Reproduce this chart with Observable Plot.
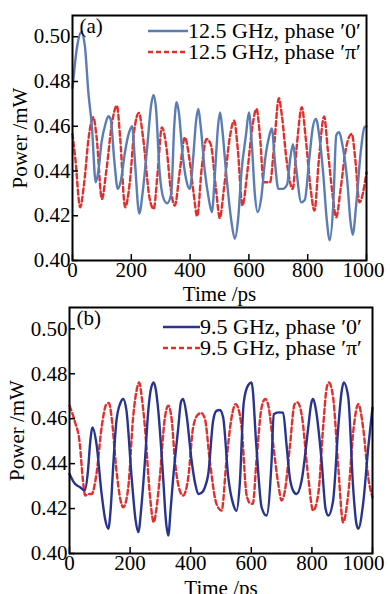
<!DOCTYPE html>
<html>
<head>
<meta charset="utf-8">
<script src="https://cdn.jsdelivr.net/npm/d3@7"></script>
<script src="https://cdn.jsdelivr.net/npm/@observablehq/plot@0.6"></script>
<style>
  html, body { margin: 0; padding: 0; background: #fff; }
  #wrap { position: relative; width: 390px; height: 594px; background: #fff; font-family: "Liberation Serif", serif; }
  .pane { position: absolute; left: 0; }
  .legend { position: absolute; font-size: 22px; line-height: 21px; color: #000; white-space: nowrap; }
  .row { display: flex; align-items: center; height: 21px; }
  .row svg { display: block; }
</style>
</head>
<body>
<div id="wrap">
  <div id="pa" class="pane" style="top:0"></div>
  <div id="pb" class="pane" style="top:300px"></div>
  <div id="la" class="legend" style="left:148px; top:20px"></div>
  <div id="lb" class="legend" style="left:163px; top:316px"></div>
</div>
<script>
// ---------- data ----------
const xTicks = [0, 200, 400, 600, 800, 1000];
const yTicks = [0.40, 0.42, 0.44, 0.46, 0.48, 0.50];
const seriesNamesA = ["12.5 GHz, phase \u20320\u2032", "12.5 GHz, phase \u2032\u03c0\u2032"];
const seriesNamesB = ["9.5 GHz, phase \u20320\u2032", "9.5 GHz, phase \u2032\u03c0\u2032"];
const panelLabels = ["(a)", "(b)"];

// (a) 12.5 GHz, phase 0
const tA0 = [0,15,30,42,54,66,79,88,99,112,122,130,142,154,165,178,192,203,212,227,240,255,268,276,284,296,309,322,336,346,354,362,374,387,399,410,420,428,436,450,463,474,485,495,502,510,522,540,552,563,575,590,600,610,620,630,642,655,668,678,688,700,715,730,740,750,760,778,790,805,818,828,840,852,865,875,887,897,906,919,935,945,953,965,980,993,1000];
const vA0 = [0.477,0.495,0.502,0.496,0.475,0.460,0.435,0.440,0.453,0.461,0.4645,0.463,0.445,0.432,0.436,0.448,0.457,0.460,0.445,0.421,0.432,0.452,0.470,0.474,0.468,0.440,0.428,0.4256,0.430,0.460,0.4707,0.466,0.448,0.436,0.432,0.445,0.462,0.4677,0.460,0.440,0.428,0.4216,0.440,0.460,0.4662,0.458,0.440,0.418,0.4097,0.418,0.440,0.456,0.4662,0.452,0.430,0.4216,0.428,0.445,0.455,0.459,0.445,0.432,0.432,0.434,0.445,0.452,0.442,0.426,0.427,0.445,0.460,0.4633,0.455,0.440,0.418,0.409,0.425,0.4558,0.4573,0.451,0.435,0.418,0.4115,0.425,0.448,0.4595,0.460];
// (a) 12.5 GHz, phase pi
const tApi = [0,10,26,40,55,71,82,100,115,135,151,162,179,195,210,226,240,262,276,290,304,320,334,348,365,382,398,412,424,440,456,470,488,501,515,535,550,562,578,595,612,626,638,650,672,685,702,712,728,749,762,780,793,810,823,838,856,868,884,897,912,930,950,962,976,1000];
const vApi = [0.4566,0.445,0.4238,0.435,0.455,0.464,0.455,0.4275,0.440,0.462,0.4692,0.455,0.4238,0.435,0.458,0.466,0.455,0.428,0.423,0.440,0.4595,0.450,0.432,0.4246,0.440,0.455,0.445,0.430,0.4198,0.442,0.4543,0.452,0.432,0.419,0.432,0.455,0.4625,0.450,0.4246,0.440,0.460,0.4677,0.455,0.435,0.435,0.450,0.4725,0.465,0.445,0.432,0.450,0.4685,0.455,0.432,0.4223,0.445,0.4644,0.450,0.430,0.4193,0.432,0.450,0.4566,0.445,0.426,0.4394];
// (b) 9.5 GHz, phase 0
const tB0 = [0,18,35,50,61,68,76,89,106,118,128,136,144,155,168,177,188,205,218,227,238,249,260,270,278,286,293,309,318,326,334,342,359,368,375,386,403,415,425,436,447,458,474,485,496,507,524,540,551,562,575,590,601,617,634,650,667,674,690,705,716,727,738,749,766,788,798,804,812,832,845,854,870,887,898,905,920,936,946,953,969,986,1000];
const vB0 = [0.4354,0.431,0.4295,0.428,0.4369,0.449,0.4561,0.4488,0.4265,0.415,0.411,0.420,0.4384,0.4591,0.467,0.4688,0.4636,0.4339,0.415,0.4095,0.422,0.4413,0.4636,0.474,0.4761,0.472,0.4636,0.4339,0.415,0.408,0.420,0.4333,0.456,0.4675,0.4688,0.462,0.4413,0.431,0.4265,0.427,0.4295,0.4354,0.4591,0.4635,0.4639,0.4606,0.4339,0.4221,0.419,0.431,0.4672,0.475,0.4761,0.4472,0.4206,0.4169,0.4413,0.462,0.4628,0.4627,0.4488,0.4339,0.428,0.4265,0.4324,0.4561,0.467,0.4688,0.465,0.4413,0.420,0.4169,0.4236,0.4561,0.472,0.4761,0.4695,0.4295,0.414,0.411,0.4221,0.4472,0.465];
// (b) 9.5 GHz, phase pi
const tBpi = [0,17,34,44,52,62,73,89,106,122,130,139,155,168,177,186,194,210,222,230,239,249,265,278,287,298,315,326,337,348,364,375,392,408,425,435,447,463,485,502,518,535,548,556,568,584,595,605,617,634,646,656,672,689,700,711,727,743,752,766,788,804,821,837,848,856,870,887,903,920,938,953,969,986,1000];
const vBpi = [0.4658,0.459,0.4488,0.433,0.4258,0.4265,0.4265,0.4354,0.4561,0.4665,0.467,0.4606,0.4369,0.424,0.4206,0.423,0.4295,0.4606,0.473,0.4761,0.469,0.4561,0.4265,0.4139,0.420,0.4339,0.4606,0.4658,0.460,0.4413,0.428,0.4258,0.4339,0.4561,0.462,0.4625,0.4599,0.4413,0.4221,0.4191,0.4413,0.4606,0.4665,0.465,0.4561,0.4265,0.4225,0.4221,0.4413,0.465,0.4688,0.466,0.4488,0.431,0.4236,0.428,0.4472,0.4665,0.4672,0.462,0.4339,0.4191,0.4265,0.4561,0.473,0.4761,0.4695,0.4384,0.4139,0.4265,0.4561,0.4665,0.4561,0.4339,0.425];

// ---------- build ----------
const zip = (ts, vs) => ts.map((t, i) => ({t, v: vs[i]}));
const colA0 = "#5b7db3", colB0 = "#28358f", colPi = "#e0302e";
const FONT = "Liberation Serif";

function panel({d0, dpi, c0, label, mt, mb, ml, mr, h, labelOffsetX, lastDx}) {
  const pw = 390 - ml - mr, ph = h - mt - mb;
  return Plot.plot({
    width: 390, height: h,
    marginLeft: ml, marginRight: mr, marginTop: mt, marginBottom: mb,
    x: {domain: [0, 1000]},
    y: {domain: [0.40, 0.5095]},
    style: {fontFamily: FONT, fontSize: "21px", color: "#000", background: "transparent", overflow: "visible"},
    marks: [
      Plot.line(dpi, {x: "t", y: "v", stroke: colPi, strokeWidth: 2.4, strokeDasharray: "5,3", curve: "monotone-x"}),
      Plot.line(d0, {x: "t", y: "v", stroke: c0, strokeWidth: 2.4, curve: "monotone-x"}),
      Plot.tickY(yTicks, {y: d => d, stroke: "#000", strokeWidth: 1.5, insetRight: pw - 6}),
      Plot.tickX(xTicks, {x: d => d, stroke: "#000", strokeWidth: 1.5, insetTop: ph - 6}),
      Plot.frame({stroke: "#000", strokeWidth: 2}),
      Plot.axisY({ticks: yTicks, tickSize: 0, tickPadding: 2, tickFormat: d => d.toFixed(2), fontSize: 21,
                  label: "Power /mW", labelAnchor: "center", labelOffset: 60, labelArrow: "none"}),
      Plot.axisX({ticks: xTicks.slice(0, -1), tickSize: 0, tickPadding: 2, tickFormat: d => String(d), fontSize: 21,
                  label: "Time /ps", labelAnchor: "center", labelOffset: labelOffsetX, labelArrow: "none"}),
      Plot.axisX({ticks: xTicks.slice(-1), tickSize: 0, tickPadding: 2, tickFormat: d => String(d), fontSize: 21,
                  dx: lastDx, label: null}),
      Plot.text([label], {frameAnchor: "top-left", text: d => d, dx: 7, dy: 3, textAnchor: "start", lineAnchor: "top", fontSize: 21, fill: "#000"})
    ]
  });
}

document.getElementById("pa").append(panel({
  d0: zip(tA0, vA0), dpi: zip(tApi, vApi), c0: colA0, label: panelLabels[0],
  mt: 15, mb: 40, ml: 72, mr: 24, h: 300, labelOffsetX: 40, lastDx: -3
}));
document.getElementById("pb").append(panel({
  d0: zip(tB0, vB0), dpi: zip(tBpi, vBpi), c0: colB0, label: panelLabels[1],
  mt: 7, mb: 41, ml: 69, mr: 18, h: 294, labelOffsetX: 41, lastDx: -9
}));

function legend(el, names, c0, lineW) {
  const rows = [[names[0], c0, null], [names[1], colPi, "5,3"]];
  for (const [name, col, dash] of rows) {
    const row = document.createElement("div");
    row.className = "row";
    row.innerHTML = `<svg width="${lineW}" height="6"><line x1="0" y1="3" x2="${lineW}" y2="3" stroke="${col}" stroke-width="2.4" ${dash ? `stroke-dasharray="${dash}"` : ""}/></svg><span>${name}</span>`;
    el.append(row);
  }
}
legend(document.getElementById("la"), seriesNamesA, colA0, 40);
legend(document.getElementById("lb"), seriesNamesB, colB0, 37);
</script>
</body>
</html>
